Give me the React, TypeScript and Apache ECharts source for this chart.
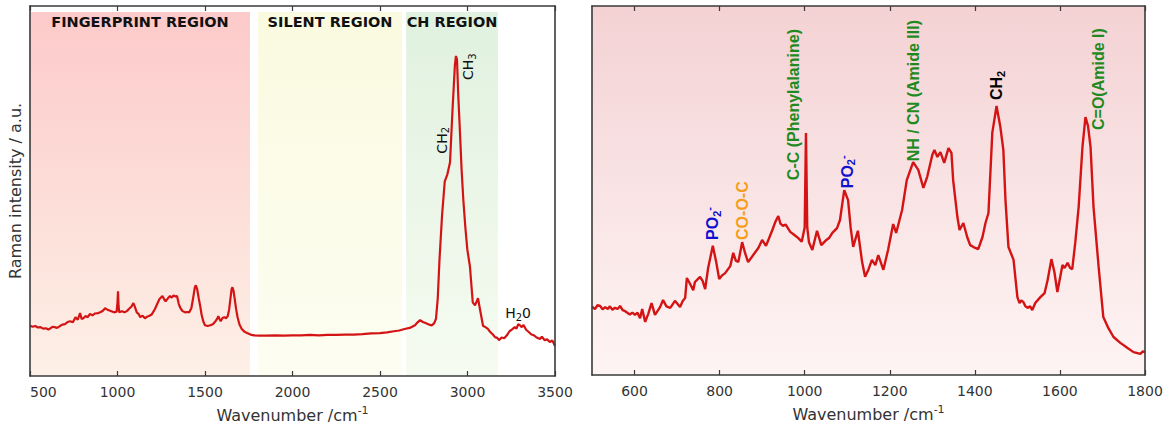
import React, { useEffect, useRef } from "react";
import * as echarts from "echarts";

// Full-range Raman spectrum: [wavenumber (cm-1), intensity (a.u.)]
const fullSpectrum: [number, number][] = [
  [500, 13.6], [515, 13.3], [530, 13.5], [545, 13.1], [560, 13.2], [575, 12.8], [590, 12.9], [605, 12.6],
  [614, 12.8], [628, 13.3], [640, 13.2], [655, 13.0], [671, 13.5], [685, 13.9], [700, 14.0], [715, 14.6],
  [729, 14.8], [745, 14.5], [760, 15.9], [773, 15.2], [786, 17.0], [795, 15.4], [805, 15.6], [818, 16.2],
  [830, 15.9], [843, 16.8], [857, 16.4], [872, 16.9], [890, 17.0], [905, 17.3], [918, 17.7], [929, 18.3],
  [940, 18.0], [950, 17.8], [965, 17.5], [980, 17.2], [995, 17.4], [1000, 20.0], [1003, 22.9], [1006, 19.0],
  [1010, 17.2], [1025, 17.5], [1040, 17.2], [1055, 17.6], [1065, 18.1], [1080, 18.8], [1091, 19.7], [1100, 18.6],
  [1110, 17.2], [1120, 16.8], [1130, 15.9], [1143, 16.3], [1157, 15.6], [1168, 16.0], [1180, 16.2], [1195, 16.6],
  [1214, 18.1], [1228, 19.6], [1240, 20.8], [1257, 21.6], [1268, 20.6], [1275, 20.2], [1288, 21.0], [1300, 21.6],
  [1310, 21.2], [1320, 21.8], [1330, 21.5], [1340, 21.6], [1350, 19.5], [1357, 18.6], [1370, 17.6], [1386, 17.2],
  [1398, 17.3], [1410, 17.2], [1422, 18.3], [1432, 21.0], [1442, 24.0], [1448, 24.5], [1455, 23.5], [1465, 20.8],
  [1473, 18.8], [1480, 16.7], [1490, 14.8], [1500, 13.7], [1515, 13.5], [1530, 13.7], [1545, 14.0], [1560, 14.8],
  [1570, 15.5], [1576, 16.2], [1583, 15.4], [1590, 14.8], [1600, 15.7], [1610, 15.9], [1620, 15.6], [1630, 16.2],
  [1638, 18.0], [1645, 20.8], [1652, 23.5], [1657, 24.0], [1663, 23.0], [1670, 20.8], [1678, 18.0], [1686, 15.9],
  [1697, 13.9], [1710, 12.7], [1725, 12.0], [1740, 11.6], [1760, 11.2], [1780, 11.0], [1810, 10.9], [1850, 10.9],
  [1900, 11.0], [1950, 10.9], [2000, 11.0], [2050, 11.0], [2100, 11.1], [2150, 11.0], [2200, 11.1], [2250, 11.1],
  [2300, 11.2], [2350, 11.2], [2400, 11.3], [2450, 11.5], [2500, 11.6], [2540, 11.8], [2580, 12.1], [2610, 12.3],
  [2640, 12.7], [2670, 13.0], [2700, 13.7], [2715, 14.5], [2729, 15.1], [2745, 14.6], [2760, 14.3], [2780, 13.9],
  [2797, 13.7], [2810, 14.3], [2820, 15.5], [2830, 21.0], [2840, 31.5], [2855, 43.7], [2870, 52.6], [2885, 54.5],
  [2900, 57.7], [2915, 72.5], [2928, 84.0], [2934, 86.5], [2940, 85.5], [2947, 76.0], [2957, 65.8], [2966, 56.0],
  [2976, 47.7], [2988, 40.0], [2999, 34.2], [3014, 29.6], [3030, 19.9], [3043, 19.1], [3060, 21.0], [3071, 18.1],
  [3089, 13.5], [3100, 13.3], [3115, 12.8], [3130, 11.9], [3145, 11.2], [3157, 10.5], [3170, 10.3], [3180, 9.7],
  [3195, 10.4], [3210, 10.2], [3225, 11.0], [3240, 12.1], [3255, 12.6], [3270, 13.2], [3280, 12.8], [3290, 14.0],
  [3300, 13.7], [3310, 13.2], [3320, 13.8], [3335, 12.5], [3350, 11.9], [3365, 11.2], [3380, 11.0], [3395, 10.4],
  [3414, 10.0], [3425, 10.6], [3440, 9.7], [3455, 9.9], [3470, 9.2], [3485, 9.6], [3500, 8.1],
];

// Fingerprint-range Raman spectrum: [wavenumber (cm-1), intensity (a.u.)]
const fingerprintSpectrum: [number, number][] = [
  [500, 18.5], [507, 17.9], [513, 18.9], [519, 18.7], [525, 17.8], [531, 18.4], [537, 17.9], [542, 18.6],
  [548, 17.7], [554, 18.2], [560, 17.9], [566, 18.7], [572, 17.6], [578, 17.3], [589, 16.4], [595, 16.9],
  [601, 16.3], [607, 16.9], [613, 15.4], [618, 17.9], [625, 14.4], [632, 16.5], [640, 19.5], [648, 16.3],
  [655, 17.5], [660, 18.4], [667, 20.3], [675, 18.6], [684, 18.2], [695, 20.1], [707, 18.4], [713, 20.0],
  [719, 20.9], [723, 26.3], [731, 24.6], [738, 23.0], [742, 25.2], [754, 26.6], [760, 25.5], [766, 23.3],
  [773, 29.0], [784, 35.0], [792, 30.6], [799, 26.0], [806, 27.0], [813, 27.6], [825, 29.5], [832, 33.1],
  [838, 31.0], [844, 30.6], [853, 36.0], [860, 33.0], [867, 30.6], [879, 32.5], [891, 34.4], [900, 36.6],
  [909, 35.0], [916, 37.0], [924, 39.3], [931, 41.5], [938, 43.1], [943, 41.0], [949, 40.4], [955, 40.8],
  [966, 38.8], [975, 38.0], [985, 37.1], [993, 36.1], [1000, 40.0], [1003, 65.6], [1006, 40.0], [1010, 36.0],
  [1018, 33.9], [1029, 39.1], [1039, 35.2], [1051, 36.6], [1058, 37.2], [1065, 38.5], [1076, 39.8], [1083, 42.0],
  [1088, 46.1], [1093, 50.1], [1102, 47.4], [1108, 40.0], [1114, 34.7], [1125, 39.1], [1135, 30.6], [1142, 26.6],
  [1150, 28.6], [1158, 31.2], [1166, 29.8], [1173, 32.5], [1185, 28.5], [1196, 33.9], [1208, 40.9], [1215, 38.5],
  [1229, 44.7], [1240, 52.8], [1255, 57.7], [1267, 55.6], [1279, 50.7], [1288, 53.7], [1300, 59.6], [1305, 61.0],
  [1312, 59.1], [1319, 60.4], [1328, 57.5], [1338, 61.5], [1345, 60.2], [1349, 52.8], [1359, 42.8], [1364, 39.3],
  [1373, 41.2], [1382, 37.4], [1389, 35.2], [1398, 34.6], [1408, 34.1], [1418, 37.4], [1425, 41.2], [1432, 43.9],
  [1441, 65.6], [1451, 72.9], [1460, 67.2], [1467, 61.0], [1472, 47.4], [1479, 34.7], [1491, 31.2], [1500, 21.1],
  [1505, 19.5], [1509, 20.2], [1514, 19.8], [1519, 18.6], [1524, 18.2], [1530, 18.6], [1535, 17.6], [1542, 19.5],
  [1554, 21.1], [1564, 22.2], [1571, 25.7], [1580, 31.4], [1587, 27.9], [1594, 22.5], [1606, 29.8], [1611, 29.0],
  [1618, 30.4], [1624, 29.0], [1629, 28.7], [1636, 35.8], [1644, 45.5], [1653, 61.8], [1660, 69.9], [1666, 67.5],
  [1672, 61.8], [1679, 45.5], [1691, 29.3], [1702, 15.7], [1714, 12.7], [1726, 10.3], [1742, 8.7], [1759, 7.3],
  [1773, 6.2], [1780, 6.0], [1789, 5.7], [1795, 6.4], [1800, 6.2],
];

const fullTicks = [500, 1000, 1500, 2000, 2500, 3000, 3500];
const fingerprintTicks = [600, 800, 1000, 1200, 1400, 1600, 1800];

// Spectral regions of the full-range spectrum (cm-1)
const regionNames = ["FINGERPRINT REGION", "SILENT REGION", "CH REGION"];
const regionStarts = [500, 1803, 2649];
const regionEnds = [1757, 2626, 3174];

// Band assignments of the full-range spectrum: text, wavenumber, intensity
const fullBandText = ["{t|CH}{s|2}", "{t|CH}{s|3}", "{t|H}{s|2}{t|0}"];
const fullBandPos: [number, number][] = [[2854, 60.1], [3003, 80.0], [3289, 17.0]];

// Band assignments of the fingerprint spectrum: text, wavenumber, intensity
const fpBandText = [
  "{a|PO}{as|2}{ap|-}",
  "{b|CO-O-C}",
  "{c|C-C (Phenylalanine)}",
  "{a|PO}{as|2}{ap|-}",
  "{c|NH / CN (Amide III)}",
  "{d|CH}{ds|2}",
  "{c|C=O(Amide I)}",
];
const fpBandPos: [number, number][] = [
  [784, 36.6], [853, 36.6], [973, 52.8], [1100, 50.6], [1255, 57.9], [1451, 74.5], [1690, 66.4],
];

const FRAME = "#3a3a3a";
const LINE = "#d41414";
const SANS = "DejaVu Sans, Verdana, sans-serif";
const ARIAL = "Liberation Sans, Arial, sans-serif";

const vgrad = (top: string, bottom: string) =>
  new echarts.graphic.LinearGradient(0, 0, 0, 1, [
    { offset: 0, color: top },
    { offset: 1, color: bottom },
  ]);

const regionColors = [
  ["#fccaca", "#fdf0e6"],
  ["#fafae0", "#fdfdf2"],
  ["#e0f1df", "#f6fbf1"],
];

export default function App() {
  const ref = useRef<HTMLDivElement>(null);

  useEffect(() => {
    if (!ref.current) return;
    const chart = echarts.init(ref.current, undefined, { renderer: "svg" });

    const tickStyle = { show: true, inside: true, length: 5, lineStyle: { color: FRAME, width: 1.2 } };
    const frameLine = { show: true, onZero: false, lineStyle: { color: FRAME, width: 1.6 } };
    const axisName = {
      fontFamily: SANS,
      fontSize: 16,
      color: "#333",
      lineHeight: 20,
      rich: { sup: { fontFamily: SANS, fontSize: 11, color: "#333", verticalAlign: "top", lineHeight: 20 } },
    };
    const tickLabel = {
      fontFamily: SANS,
      fontSize: 14,
      color: "#333",
      margin: 9,
      formatter: (v: number) => String(v),
    };

    const xBottom = (grid: number, min: number, max: number, ticks: number[], extra: any) => ({
      type: "value",
      gridIndex: grid,
      position: "bottom",
      min,
      max,
      z: 5,
      axisLine: frameLine,
      axisTick: { ...tickStyle, customValues: ticks },
      axisLabel: { ...tickLabel, customValues: ticks, ...extra },
      splitLine: { show: false },
      name: "Wavenumber /cm{sup|-1}",
      nameLocation: "middle",
      nameGap: 29,
      nameTextStyle: axisName,
    });
    const xTop = (grid: number, min: number, max: number, ticks: number[]) => ({
      type: "value",
      gridIndex: grid,
      position: "top",
      min,
      max,
      z: 5,
      axisLine: frameLine,
      axisTick: { ...tickStyle, customValues: ticks },
      axisLabel: { show: false },
      splitLine: { show: false },
    });
    const yAxisFor = (grid: number, position: string, name?: string) => ({
      type: "value",
      gridIndex: grid,
      position,
      min: 0,
      max: 100,
      z: 5,
      axisLine: frameLine,
      axisTick: { show: false },
      axisLabel: { show: false },
      splitLine: { show: false },
      name: name || "",
      nameLocation: "middle",
      nameGap: 7,
      nameTextStyle: { fontFamily: SANS, fontSize: 16, color: "#333" },
    });

    const plain = { textBorderWidth: 0, textBorderColor: "transparent", textShadowBlur: 0, opacity: 1 };
    const leftRich = {
      t: { ...plain, fontFamily: SANS, fontSize: 14, color: "#111", lineHeight: 18 },
      s: { ...plain, fontFamily: SANS, fontSize: 10, color: "#111", lineHeight: 10, verticalAlign: "bottom" },
    };
    const bold = (color: string) => ({
      ...plain, fontFamily: ARIAL, fontWeight: "bold", fontSize: 16, color, lineHeight: 19,
    });
    const boldSub = (color: string) => ({
      ...plain, fontFamily: ARIAL, fontWeight: "bold", fontSize: 11, color, lineHeight: 10, verticalAlign: "bottom",
    });
    const boldSup = (color: string) => ({
      ...plain, fontFamily: ARIAL, fontWeight: "bold", fontSize: 11, color, lineHeight: 10, verticalAlign: "top",
    });
    const rightRich = {
      a: bold("#1010d0"),
      as: boldSub("#1010d0"),
      ap: boldSup("#1010d0"),
      b: bold("#f59e1a"),
      c: bold("#1f8a1f"),
      d: bold("#000"),
      ds: boldSub("#000"),
    };

    const annotationSeries = (axis: number, pos: [number, number][], texts: string[], rich: any, rotated: (i: number) => boolean) => ({
      type: "scatter",
      xAxisIndex: axis,
      yAxisIndex: axis,
      symbolSize: 0,
      silent: true,
      z: 6,
      itemStyle: { opacity: 1 },
      emphasis: { disabled: true },
      data: pos.map((p, i) => ({
        value: p,
        label: {
          show: true,
          ...plain,
          formatter: texts[i],
          position: "top",
          distance: 0,
          rotate: rotated(i) ? 90 : 0,
          align: rotated(i) ? "left" : "center",
          verticalAlign: "middle",
          rich,
        },
      })),
    });

    chart.setOption({
      animation: false,
      grid: [
        { left: 30, top: 6, width: 525, height: 371 },
        { left: 592, top: 6, width: 553, height: 369 },
      ],
      xAxis: [
        xBottom(0, 500, 3500, fullTicks, { alignMinLabel: "left" }),
        xTop(0, 500, 3500, fullTicks),
        xBottom(1, 500, 1800, fingerprintTicks, {}),
        xTop(1, 500, 1800, fingerprintTicks),
      ],
      yAxis: [
        yAxisFor(0, "left", "Raman intensity / a.u."),
        yAxisFor(0, "right"),
        yAxisFor(1, "left"),
        yAxisFor(1, "right"),
      ],
      series: [
        {
          type: "line",
          xAxisIndex: 0,
          yAxisIndex: 0,
          data: fullSpectrum,
          showSymbol: false,
          symbol: "none",
          lineStyle: { color: LINE, width: 2.2 },
          markArea: {
            silent: true,
            label: {
              show: true,
              position: "insideTop",
              distance: 3,
              fontFamily: SANS,
              fontWeight: "bold",
              fontSize: 14.5,
              color: "#111",
            },
            data: regionNames.map((name, i) => [
              {
                name,
                xAxis: regionStarts[i],
                yAxis: 98.4,
                itemStyle: { color: vgrad(regionColors[i][0], regionColors[i][1]) },
              },
              { xAxis: regionEnds[i], yAxis: 0 },
            ]),
          },
        },
        annotationSeries(0, fullBandPos, fullBandText, leftRich, (i) => i < 2),
        {
          type: "line",
          xAxisIndex: 2,
          yAxisIndex: 2,
          data: fingerprintSpectrum,
          showSymbol: false,
          symbol: "none",
          lineStyle: { color: LINE, width: 2.4 },
          markArea: {
            silent: true,
            data: [
              [
                { xAxis: 500, yAxis: 100, itemStyle: { color: vgrad("#f4d2d4", "#fef4f4") } },
                { xAxis: 1800, yAxis: 0 },
              ],
            ],
          },
        },
        annotationSeries(2, fpBandPos, fpBandText, rightRich, () => true),
      ],
    });

    return () => chart.dispose();
  }, []);

  return (
    <div
      ref={ref}
      style={{ position: "absolute", left: 0, top: 0, width: 1170, height: 430, background: "#fff" }}
    />
  );
}
